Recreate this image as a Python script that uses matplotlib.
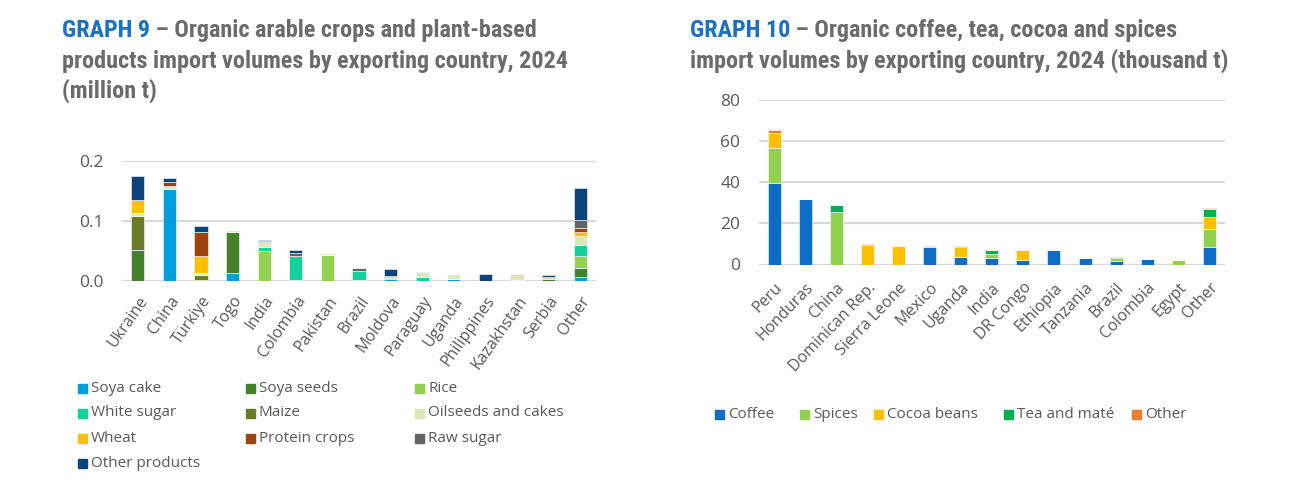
import matplotlib.pyplot as plt
from matplotlib.patches import Rectangle
import numpy as np

# ---- data: graph 9 (million t)
countries_left = ['Ukraine', 'China', 'Türkiye', 'Togo', 'India', 'Colombia', 'Pakistan', 'Brazil',
                  'Moldova', 'Paraguay', 'Uganda', 'Philippines', 'Kazakhstan', 'Serbia', 'Other']
soya_cake = [0, 0.153, 0.002, 0.013, 0, 0.002, 0, 0.002, 0.003, 0, 0.003, 0, 0, 0, 0.006]
soya_seeds = [0.051, 0, 0, 0.069, 0, 0, 0, 0, 0, 0, 0, 0, 0, 0.003, 0.015]
rice = [0, 0, 0, 0, 0.050, 0, 0.043, 0, 0, 0, 0, 0, 0, 0, 0.021]
white_sugar = [0, 0, 0, 0, 0.007, 0.039, 0, 0.0145, 0, 0.0065, 0, 0, 0.002, 0, 0.017]
maize = [0.057, 0, 0.008, 0, 0, 0, 0, 0, 0.002, 0, 0, 0, 0, 0, 0]
oilseeds = [0.0045, 0.0045, 0.003, 0.003, 0.008, 0, 0.004, 0, 0, 0.0065, 0.009, 0, 0.008, 0, 0.015]
wheat = [0.022, 0, 0.029, 0, 0, 0, 0, 0, 0.002, 0, 0, 0, 0, 0.002, 0.008]
protein_crops = [0.001, 0.008, 0.040, 0, 0, 0, 0, 0, 0.001, 0, 0, 0, 0.0015, 0.001, 0.0055]
raw_sugar = [0, 0, 0, 0, 0.001, 0.005, 0, 0.0055, 0, 0.002, 0, 0, 0, 0.001, 0.014]
other_products = [0.040, 0.006, 0.009, 0, 0.002, 0.005, 0, 0, 0.012, 0, 0, 0.011, 0, 0.003, 0.053]

# ---- data: graph 10 (thousand t)
countries_right = ['Peru', 'Honduras', 'China', 'Dominican Rep.', 'Sierra Leone', 'Mexico', 'Uganda',
                   'India', 'DR Congo', 'Ethiopia', 'Tanzania', 'Brazil', 'Colombia', 'Egypt', 'Other']
coffee = [39.8, 31.9, 0, 0, 0, 8.6, 3.7, 3.4, 2.3, 7.0, 3.4, 1.8, 2.6, 0, 8.3]
spices = [17.1, 0, 25.7, 0, 0, 0, 0, 1.5, 0, 0, 0, 1.6, 0, 2.4, 8.8]
cocoa_beans = [7.3, 0, 0, 9.6, 9.1, 0, 4.9, 0, 4.9, 0, 0, 0, 0, 0, 6.2]
tea_mate = [0, 0, 3.1, 0, 0, 0, 0.3, 2.4, 0, 0, 0, 0.3, 0, 0, 3.6]
other_right = [1.3, 0, 0, 0.6, 0, 0.5, 0, 0, 0, 0, 0, 0, 0, 0, 0.8]

left_series = [('Soya cake', soya_cake, '#009fda'), ('Soya seeds', soya_seeds, '#43822a'),
               ('Rice', rice, '#92d050'), ('White sugar', white_sugar, '#12d19b'),
               ('Maize', maize, '#6b7a26'), ('Oilseeds and cakes', oilseeds, '#dde7b8'),
               ('Wheat', wheat, '#ffc000'), ('Protein crops', protein_crops, '#9c4310'),
               ('Raw sugar', raw_sugar, '#636363'), ('Other products', other_products, '#0c4479')]
right_series = [('Coffee', coffee, '#0e6bc6'), ('Spices', spices, '#92d050'),
                ('Cocoa beans', cocoa_beans, '#ffc000'), ('Tea and maté', tea_mate, '#00b050'),
                ('Other', other_right, '#ed7d31')]

W, H = 1302, 494
BLUE = '#1a70c4'
GREY = '#6b6b6b'
TICK = '#595959'
TITLE_FONT = ['Roboto Condensed', 'Lato', 'DejaVu Sans']
TEXT_FONT = ['Open Sans', 'DejaVu Sans']

fig = plt.figure(figsize=(W / 100, H / 100), dpi=100)


def fx(px):
    return px / W


def fy(py):
    return 1 - py / H


def stacked(ax, labels, series, width):
    x = np.arange(len(labels))
    bottom = np.zeros(len(labels))
    for name, vals, col in series:
        vals = np.array(vals, dtype=float)
        ax.bar(x, vals, width, bottom=bottom, color=col, edgecolor='white', linewidth=0.4, zorder=3)
        bottom += vals
    ax.set_xlim(-0.5, len(labels) - 0.5)
    for s in ax.spines.values():
        s.set_visible(False)
    ax.grid(axis='y', color='#d9d9d9', linewidth=1.6, zorder=0)
    ax.set_axisbelow(True)
    ax.tick_params(axis='both', length=0, colors=TICK)
    ax.tick_params(axis='y', pad=13, labelsize=12.5)


# left chart
ax1 = fig.add_axes([fx(122), fy(280.7), fx(596) - fx(122), fy(161) - fy(280.7)])
stacked(ax1, countries_left, left_series, 0.42)
ax1.set_ylim(0, 0.2)
ax1.set_yticks([0, 0.1, 0.2])
ax1.set_yticklabels(['0.0', '0.1', '0.2'], fontfamily=TEXT_FONT)
ax1.set_xticks(np.arange(len(countries_left)))
ax1.set_xticklabels(countries_left, rotation=55, ha='right', rotation_mode='anchor',
                    fontsize=11.5, fontfamily=TEXT_FONT, color=TICK)
ax1.tick_params(axis='x', pad=9)

# right chart
ax2 = fig.add_axes([fx(758.5), fy(264.5), fx(1225) - fx(758.5), fy(100.3) - fy(264.5)])
stacked(ax2, countries_right, right_series, 0.42)
ax2.set_ylim(0, 80)
ax2.set_yticks([0, 20, 40, 60, 80])
ax2.set_yticklabels(['0', '20', '40', '60', '80'], fontfamily=TEXT_FONT)
ax2.set_xticks(np.arange(len(countries_right)))
ax2.set_xticklabels(countries_right, rotation=46, ha='right', rotation_mode='anchor',
                    fontsize=11.5, fontfamily=TEXT_FONT, color=TICK)
ax2.tick_params(axis='x', pad=11)


# titles
def title(x, lines, head, size):
    r = fig.canvas.get_renderer()
    kw = dict(fontsize=size, fontweight='bold', fontfamily=TITLE_FONT, va='baseline')
    t = fig.text(fx(x), fy(lines[0][1]), head, color=BLUE, **kw)
    bb = t.get_window_extent(renderer=r)
    fig.text(bb.x1 / W, fy(lines[0][1]), lines[0][0], color=GREY, **kw)
    for txt, y in lines[1:]:
        fig.text(fx(x), fy(y), txt, color=GREY, **kw)


title(62, [(' – Organic arable crops and plant-based', 37),
           ('products import volumes by exporting country, 2024', 68),
           ('(million t)', 98)], 'GRAPH 9', 17.4)
title(690, [(' – Organic coffee, tea, cocoa and spices', 37),
            ('import volumes by exporting country, 2024 (thousand t)', 68)], 'GRAPH 10', 17.4)


# legends
def legend_item(x, y, name, col):
    fig.patches.append(Rectangle((fx(x), fy(y + 4.5)), 9 / W, 9 / H, color=col,
                                 transform=fig.transFigure, figure=fig))
    fig.text(fx(x + 13), fy(y), name, va='center', ha='left', fontsize=11,
             fontfamily=TEXT_FONT, color=TICK)


col_x = [78, 246, 415]
row_y = [388, 413, 438, 463]
for i, (name, vals, col) in enumerate(left_series):
    legend_item(col_x[i % 3], row_y[i // 3], name, col)

right_x = [715, 800, 874, 1004, 1132]
for i, (name, vals, col) in enumerate(right_series):
    legend_item(right_x[i], 414, name, col)

fig.savefig('out.png', dpi=100)
